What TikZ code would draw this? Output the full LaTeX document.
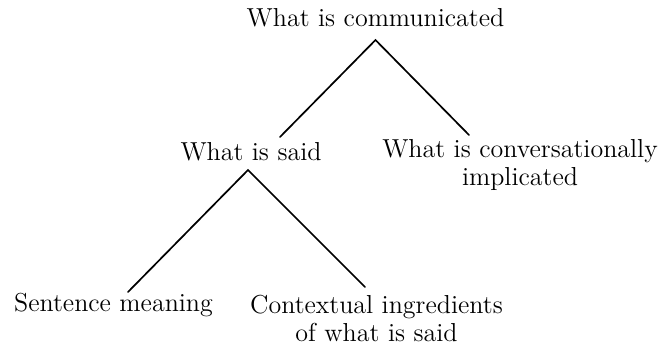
\documentclass[tikz,border=0pt]{standalone}
\usepackage{fontspec}
\usetikzlibrary{positioning}
\tikzset{
	label/.style={
		inner sep=0pt,
		anchor=base,
		align=center,
		font=\fontsize{13}{14.2}\selectfont
	}
}

\begin{document}
\begin{tikzpicture}[x=0.5pt, y=-0.5pt]
			\tikzstyle{branch}=[line width=0.85pt, line cap=round]
			\useasboundingbox (0,0) rectangle (665,347);
			\node[label] (comm) at (375.5,27) {What is communicated};
			\node[label] (said) at (251,161) {What is said};
			\node[label] (conv) at (520,186) {What is conversationally\\implicated};
			\node[label] (sent) at (113.5,312) {Sentence meaning};
			\node[label] (ctx) at (376.5,342) {Contextual ingredients\\of what is said};
			
			\draw [branch] ([shift={(29,-24)}]said.base) -- ([shift={(0,13)}]comm.base) -- ([shift={(-51,-51)}]conv.base);
			\draw [branch] ([shift={(14.5,-20)}]sent.base) -- ([shift={(-3,9)}]said.base) -- ([shift={(-11.5,-55)}]ctx.base);
\end{tikzpicture}
\end{document}
